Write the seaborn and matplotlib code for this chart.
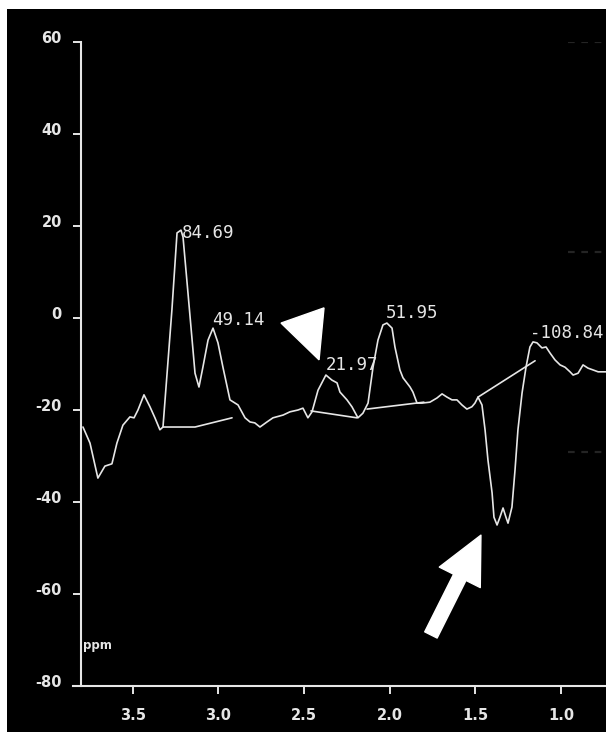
#!/usr/bin/env python3
# Espectro de MRS (ppm) com picos rotulados, fundo preto estilo console do aparelho
# Rodar: python plot.py  -> gera out.png

import matplotlib
matplotlib.use("Agg")
import matplotlib.pyplot as plt
from matplotlib.patches import Polygon, Rectangle
from matplotlib.transforms import ScaledTranslation
import pandas as pd
import seaborn as sns

# ## 0. Dados

ppm = [3.790, 3.749, 3.703, 3.662, 3.621, 3.592, 3.557, 3.516, 3.492, 3.469,
       3.434, 3.399, 3.370, 3.341, 3.323, 3.271, 3.241, 3.218, 3.206, 3.177,
       3.136, 3.113, 3.090, 3.060, 3.031, 3.002, 2.973, 2.932, 2.885, 2.844,
       2.815, 2.787, 2.757, 2.716, 2.681, 2.622, 2.582, 2.535, 2.506, 2.477,
       2.453, 2.418, 2.372, 2.337, 2.307, 2.290, 2.249, 2.220, 2.185, 2.156,
       2.126, 2.097, 2.068, 2.039, 2.016, 1.986, 1.969, 1.940, 1.922, 1.881,
       1.864, 1.840, 1.811, 1.765, 1.724, 1.694, 1.665, 1.636, 1.607, 1.578,
       1.549, 1.520, 1.502, 1.484, 1.461, 1.443, 1.426, 1.402, 1.391, 1.373,
       1.356, 1.338, 1.321, 1.309, 1.286, 1.268, 1.251, 1.227, 1.204, 1.181,
       1.163, 1.140, 1.111, 1.087, 1.064, 1.035, 1.005, 0.976, 0.947, 0.929,
       0.900, 0.871, 0.842, 0.812, 0.783, 0.737]

sinal = [-23.7, -27.2, -34.8, -32.2, -31.7, -27.2, -23.3, -21.5, -21.7, -20.0,
         -16.7, -19.3, -21.7, -24.3, -23.7, 1.7, 18.5, 19.1, 17.6, 5.4,
         -12.0, -15.0, -10.7, -4.8, -2.2, -5.4, -10.7, -17.8, -18.9, -21.7,
         -22.6, -22.8, -23.7, -22.6, -21.7, -21.1, -20.4, -20.0, -19.6, -21.7,
         -20.4, -15.7, -12.4, -13.5, -14.1, -16.1, -17.8, -19.3, -21.7, -20.7,
         -18.5, -10.7, -4.8, -1.5, -1.1, -2.2, -6.3, -11.3, -13.0, -15.0,
         -16.1, -18.5, -18.5, -18.3, -17.4, -16.5, -17.2, -17.8, -17.8, -18.9,
         -19.8, -19.3, -18.5, -17.2, -18.9, -24.3, -30.9, -38.0, -43.3, -45.0,
         -43.3, -41.3, -43.3, -44.6, -41.1, -33.0, -24.3, -16.3, -10.7, -6.3,
         -5.2, -5.4, -6.5, -6.3, -7.6, -9.1, -10.2, -10.7, -11.7, -12.4,
         -12.0, -10.2, -10.9, -11.3, -11.7, -11.7]

# linhas de base de integracao de cada pico
base_seg = ["A", "A", "A", "B", "B", "C", "C", "D", "D"]
base_ppm = [3.323, 3.136, 2.920, 2.459, 2.191, 2.132, 1.800, 1.484, 1.151]
base_sinal = [-23.7, -23.7, -21.7, -20.2, -21.7, -19.8, -18.3, -17.2, -9.3]

# rotulos das areas dos picos
rotulos = ["84.69", "49.14", "21.97", "51.95", "-108.84"]
rotulo_ppm = [3.212, 3.036, 2.372, 2.021, 1.180]
rotulo_sinal = [18.5, -0.4, -10.2, 1.1, -3.3]

x_ticks = [3.5, 3.0, 2.5, 2.0, 1.5, 1.0]
x_labels = ["3.5", "3.0", "2.5", "2.0", "1.5", "1.0"]
y_ticks = [60, 40, 20, 0, -20, -40, -60, -80]
y_labels = ["60", "40", "20", "0", "-20", "-40", "-60", "-80"]

# tracejados fracos na borda direita (restos de outro painel)
tracejado_sinal = [60, 14.3, -29.1]

# ponta de seta (triangulo) e seta grande
triangulo = [(2.634, -1.1), (2.383, 2.2), (2.412, -9.1)]
seta_ponta = (1.467, -47.2)
seta_cauda = (1.759, -68.9)

# ## 1. Estilo

sns.set_style("dark", {"axes.facecolor": "black", "figure.facecolor": "white"})
plt.rcParams["font.family"] = ["DejaVu Sans"]

COR = "#e6e6e6"

fig = plt.figure(figsize=(6.06, 7.32), dpi=100)
fig.add_artist(Rectangle((7 / 606, 0), 1, 1 - 9 / 732, transform=fig.transFigure,
                         facecolor="black", edgecolor="none", zorder=-10))
ax = fig.add_axes([72.7 / 606, 46 / 732, 1 - 72.7 / 606, (686 - 42) / 732])
ax.set_facecolor("black")

# ## 2. Curva e linhas de base

df = pd.DataFrame({"ppm": ppm, "sinal": sinal})
sns.lineplot(data=df, x="ppm", y="sinal", estimator=None, sort=False,
             color=COR, linewidth=1.2, ax=ax)

df_base = pd.DataFrame({"seg": base_seg, "ppm": base_ppm, "sinal": base_sinal})
sns.lineplot(data=df_base, x="ppm", y="sinal", units="seg", estimator=None,
             sort=False, color=COR, linewidth=1.2, ax=ax)

for y in tracejado_sinal:
    ax.plot([0.959, 0.737], [y, y], color="#242424", linewidth=1.6,
            dashes=(3, 3), zorder=1)

for txt, x, y in zip(rotulos, rotulo_ppm, rotulo_sinal):
    ax.text(x, y, txt, color=COR, fontsize=12.5, family="DejaVu Sans Mono",
            ha="left", va="center", clip_on=False)

ax.add_patch(Polygon(triangulo, closed=True, facecolor="white",
                     edgecolor="white", linewidth=1, zorder=5))
ax.annotate("", xy=seta_ponta, xytext=seta_cauda,
            arrowprops=dict(arrowstyle="simple,head_length=34,head_width=33,tail_width=10",
                            mutation_scale=1, facecolor="white", edgecolor="white",
                            shrinkA=0, shrinkB=0), zorder=5)

ax.text(3.79, -71.1, "ppm", color=COR, fontsize=8.5, fontweight="bold",
        ha="left", va="center")

# ## 3. Eixos
# (spine antes dos ticks: set_position recria os ticks e perde os ajustes)

for lado in ["top", "right"]:
    ax.spines[lado].set_visible(False)
for lado in ["left", "bottom"]:
    ax.spines[lado].set_color(COR)
    ax.spines[lado].set_linewidth(1.5)
ax.spines["left"].set_position(("data", 3.80))

ax.set_xlim(3.85, 0.737)
ax.set_ylim(-80, 60)
ax.set_xlabel("")
ax.set_ylabel("")
ax.grid(False)

ax.tick_params(axis="both", direction="out", length=6, width=1.4, colors=COR,
               left=True, bottom=True)
ax.tick_params(axis="x", pad=9.5)
ax.tick_params(axis="y", pad=8)

ax.set_xticks(x_ticks, x_labels, fontweight="bold", fontsize=10.5, color=COR)
ax.set_yticks(y_ticks, y_labels, fontweight="bold", fontsize=10.5, color=COR)

# rotulos do eixo y ficam um pouco acima do traco, como no original
sobe = ScaledTranslation(0, 5 / 100, fig.dpi_scale_trans)
for t in ax.get_yticklabels():
    t.set_transform(t.get_transform() + sobe)

fig.savefig("out.png", dpi=100, facecolor=fig.get_facecolor())
